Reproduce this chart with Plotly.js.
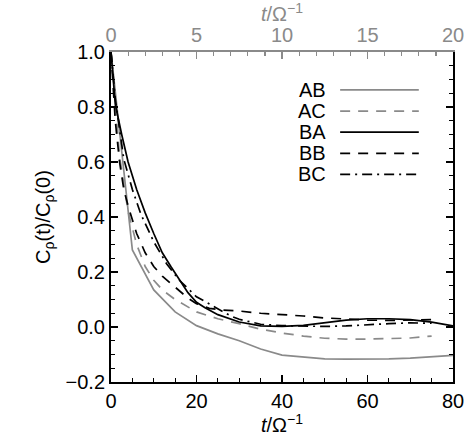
<!DOCTYPE html>
<html>
<head>
<meta charset="utf-8">
<script src="https://cdn.plot.ly/plotly-3.0.1.min.js"></script>
<style>
  html, body { margin: 0; padding: 0; background: #fff; }
  #plot { width: 474px; height: 436px; }
</style>
</head>
<body>
<div id="plot"></div>
<script>
// values
const tAB = [0, 5, 10, 15, 20, 25, 30, 35, 40, 45, 50, 55, 60, 65, 70, 75, 80];
const cAB = [1.0, 0.28, 0.135, 0.055, 0.005, -0.025, -0.05, -0.08, -0.102, -0.11, -0.116, -0.117, -0.117, -0.116, -0.113, -0.108, -0.103];

const tAC = [0, 2, 4, 6, 8, 10, 12, 15, 20, 25, 30, 35, 40, 45, 50, 55, 60, 65, 70, 75];
const cAC = [1.0, 0.62, 0.42, 0.3, 0.22, 0.17, 0.135, 0.1, 0.055, 0.03, 0.012, -0.008, -0.022, -0.033, -0.041, -0.044, -0.044, -0.043, -0.04, -0.033];

const tBA = [0, 1, 2.5, 4, 6, 8, 10, 12, 14, 16, 18, 20, 22, 25, 28, 30, 35, 40, 45, 50, 55, 60, 65, 70, 75, 80];
const cBA = [1.0, 0.81, 0.7, 0.6, 0.5, 0.415, 0.34, 0.27, 0.22, 0.17, 0.125, 0.09, 0.07, 0.045, 0.028, 0.018, 0.004, 0.002, 0.006, 0.015, 0.025, 0.03, 0.03, 0.027, 0.018, 0.004];

const tBB = [0, 1, 2, 3, 4, 6, 8, 10, 12, 15, 18, 20, 23, 26, 30, 35, 40, 45, 50, 55, 60, 65, 70, 75];
const cBB = [1.0, 0.75, 0.6, 0.5, 0.44, 0.34, 0.27, 0.22, 0.185, 0.145, 0.105, 0.085, 0.068, 0.062, 0.058, 0.05, 0.046, 0.04, 0.033, 0.028, 0.025, 0.024, 0.025, 0.027];

const tBC = [0, 1, 3, 5, 7, 10, 13, 16, 20, 24, 28, 30, 35, 40, 45, 50, 55, 60, 65, 70, 75];
const cBC = [1.0, 0.83, 0.61, 0.5, 0.41, 0.31, 0.23, 0.17, 0.11, 0.076, 0.04, 0.028, 0.01, 0.005, 0.004, 0.002, 0.004, 0.009, 0.012, 0.015, 0.014];

const names = ['AB', 'AC', 'BA', 'BB', 'BC'];
const colors = ['#8a8a8a', '#8a8a8a', '#000000', '#000000', '#000000'];
const dashes = ['solid', '10px,8px', 'solid', '10px,8px', '10px,5px,2px,5px'];

const xs = [tAB, tAC, tBA, tBB, tBC];
const ys = [cAB, cAC, cBA, cBB, cBC];

const font = 'Liberation Sans, Arial, Helvetica, sans-serif';
const fs = 20;

const traces = names.map((n, i) => ({
  x: xs[i],
  y: ys[i],
  mode: 'lines',
  name: n,
  line: { color: colors[i], width: 1.7, dash: dashes[i] },
  showlegend: false
}));

// empty trace so the top (gray) axis gets drawn
traces.push({ x: [], y: [], xaxis: 'x2', yaxis: 'y', showlegend: false, hoverinfo: 'skip' });

// hand-made legend: label on the left, line sample on the right
const shapes = [];
const annotations = [];
names.forEach((n, i) => {
  const yy = 0.885 - i * 0.064;
  annotations.push({
    xref: 'paper', yref: 'paper', x: 0.634, y: yy,
    xanchor: 'right', yanchor: 'middle', showarrow: false,
    text: n, font: { family: font, size: fs, color: '#000' }
  });
  shapes.push({
    type: 'line', xref: 'paper', yref: 'paper',
    x0: 0.67, x1: 0.9, y0: yy, y1: yy,
    line: { color: colors[i], width: 1.7, dash: dashes[i] }
  });
});

const layout = {
  width: 474,
  height: 436,
  margin: { l: 111, r: 21, t: 52, b: 54 },
  paper_bgcolor: '#ffffff',
  plot_bgcolor: '#ffffff',
  font: { family: font, size: fs, color: '#000' },
  showlegend: false,
  xaxis: {
    range: [0, 80],
    dtick: 20,
    tick0: 0,
    ticks: 'inside',
    ticklen: 7,
    tickwidth: 1.5,
    tickcolor: '#000',
    minor: { dtick: 5, ticks: 'inside', ticklen: 4, tickcolor: '#000', tickwidth: 1.2 },
    showline: true,
    linecolor: '#000',
    linewidth: 2,
    showgrid: false,
    zeroline: false,
    tickfont: { family: font, size: fs, color: '#000' },
    title: { text: '<i>t</i>/Ω<sup>−1</sup>', standoff: 0, font: { family: font, size: fs, color: '#000' } }
  },
  xaxis2: {
    overlaying: 'x',
    side: 'top',
    anchor: 'y',
    range: [0, 20],
    dtick: 5,
    tick0: 0,
    ticks: 'inside',
    ticklen: 7,
    tickwidth: 1.5,
    tickcolor: '#8a8a8a',
    minor: { dtick: 1, ticks: 'inside', ticklen: 4, tickcolor: '#8a8a8a', tickwidth: 1.2 },
    showline: true,
    linecolor: '#8a8a8a',
    linewidth: 2,
    showgrid: false,
    zeroline: false,
    tickfont: { family: font, size: fs, color: '#8a8a8a' },
    title: { text: '<i>t</i>/Ω<sup>−1</sup>', standoff: 0, font: { family: font, size: fs, color: '#8a8a8a' } }
  },
  yaxis: {
    range: [-0.2, 1.0],
    dtick: 0.2,
    tick0: 0,
    tickformat: '.1f',
    ticks: 'inside',
    ticklen: 7,
    tickwidth: 1.5,
    tickcolor: '#000',
    minor: { dtick: 0.05, ticks: 'inside', ticklen: 4, tickcolor: '#000', tickwidth: 1.2 },
    showline: true,
    mirror: 'ticks',
    linecolor: '#000',
    linewidth: 2,
    showgrid: false,
    zeroline: false,
    tickfont: { family: font, size: fs, color: '#000' },
    title: { text: 'C<sub>ρ</sub>(t)/C<sub>ρ</sub>(0)', standoff: 10, font: { family: font, size: fs, color: '#000' } }
  },
  shapes: shapes,
  annotations: annotations
};

Plotly.newPlot('plot', traces, layout, { displayModeBar: false, staticPlot: true });
</script>
</body>
</html>
